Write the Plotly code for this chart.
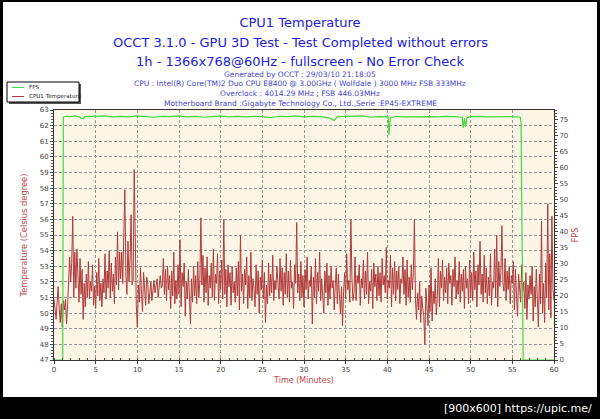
import plotly.graph_objects as go

# ---------------- data ----------------
SAMPLE_STEP_MIN = 0.125  # one temperature sample every 7.5 s

cpu1_temp = [
    50.9, 50.1, 49.6, 50.7, 51.7, 50.3, 49.4, 50.6,   # 0
    49.1, 50.8, 50.2, 50.9, 49.3, 50.4, 52.6, 53.6,   # 1
    52.0, 53.2, 56.2, 51.0, 53.9, 51.6, 54.1, 52.3,   # 2
    50.7, 53.5, 51.2, 52.8, 49.6, 51.9, 50.4, 52.5,   # 3
    51.0, 53.3, 50.9, 52.0, 51.4, 53.1, 50.5, 51.7,   # 4
    50.3, 52.6, 51.1, 53.5, 50.8, 51.9, 50.4, 52.2,   # 5
    51.3, 53.8, 50.9, 52.7, 51.6, 54.0, 51.0, 53.2,   # 6
    51.4, 52.5, 50.6, 53.6, 51.8, 55.2, 51.5, 53.9,   # 7
    52.2, 53.9, 51.9, 55.0, 57.9, 52.4, 51.2, 54.6,   # 8
    52.0, 53.4, 56.3, 51.8, 52.1, 59.2, 52.5, 50.5,   # 9
    49.1, 51.8, 50.7, 52.9, 51.2, 50.1, 52.6, 51.4,   # 10
    50.5, 52.3, 51.9, 50.6, 51.5, 52.0, 50.8, 51.7,   # 11
    52.1, 51.3, 51.7, 52.2, 51.0, 51.9, 52.4, 51.6,   # 12
    51.8, 53.5, 51.2, 52.8, 50.8, 53.0, 51.5, 52.4,   # 13
    50.3, 52.7, 51.1, 53.9, 50.6, 52.1, 50.9, 53.1,   # 14
    51.2, 54.7, 50.4, 52.6, 51.7, 53.2, 49.8, 52.0,   # 15
    50.9, 52.8, 51.4, 49.3, 52.2, 50.7, 53.0, 51.1,   # 16
    52.4, 50.6, 53.3, 51.0, 52.0, 56.1, 51.8, 53.7,   # 17
    50.7, 52.9, 51.3, 53.6, 50.5, 52.4, 51.6, 53.2,   # 18
    51.0, 54.1, 50.8, 52.5, 51.9, 53.8, 50.6, 52.7,   # 19
    51.5, 53.4, 50.9, 56.0, 51.2, 52.8, 50.4, 53.1,   # 20
    51.7, 52.6, 50.5, 53.0, 51.3, 52.0, 50.7, 52.9,   # 21
    51.1, 53.3, 50.2, 55.0, 51.4, 52.5, 50.6, 52.8,   # 22
    51.8, 53.6, 50.3, 52.4, 51.0, 53.9, 50.8, 52.2,   # 23
    51.6, 50.4, 53.1, 51.2, 52.7, 50.0, 52.3, 51.5,   # 24
    53.4, 50.9, 52.6, 49.4, 51.8, 50.6, 53.2, 51.1,   # 25
    52.5, 51.3, 53.7, 50.8, 52.1, 51.5, 53.0, 51.7,   # 26
    50.9, 53.5, 51.4, 52.9, 50.5, 52.6, 51.2, 53.8,   # 27
    51.0, 52.7, 50.7, 53.4, 51.6, 52.0, 50.3, 53.1,   # 28
    51.9, 55.8, 51.3, 52.5, 50.8, 53.3, 51.0, 52.4,   # 29
    50.4, 52.8, 51.5, 53.6, 50.9, 52.1, 51.7, 53.0,   # 30
    49.3, 52.3, 51.0, 53.5, 50.6, 52.6, 51.4, 53.9,   # 31
    50.8, 52.2, 51.1, 50.0, 52.7, 51.3, 53.2, 50.5,   # 32
    52.4, 50.9, 53.0, 51.6, 52.1, 50.2, 51.8, 52.9,   # 33
    50.6, 52.5, 51.2, 50.0, 51.7, 49.2, 51.4, 52.6,   # 34
    50.9, 53.8, 51.5, 52.1, 50.7, 56.0, 52.3, 50.8,   # 35
    51.3, 53.6, 50.8, 52.4, 51.9, 53.1, 50.5, 52.2,   # 36
    51.6, 53.4, 50.9, 52.7, 51.2, 53.9, 50.6, 52.0,   # 37
    51.4, 52.8, 50.3, 53.2, 51.7, 52.5, 50.8, 53.0,   # 38
    51.1, 52.6, 50.7, 53.5, 51.8, 52.4, 51.3, 54.2,   # 39
    50.9, 52.1, 51.6, 53.7, 50.4, 52.9, 51.2, 53.3,   # 40
    50.8, 52.7, 51.5, 53.0, 50.6, 52.2, 51.9, 53.6,   # 41
    51.2, 52.8, 50.5, 53.4, 51.0, 52.3, 50.7, 53.1,   # 42
    51.5, 52.6, 56.0, 50.9, 49.6, 51.3, 50.2, 52.0,   # 43
    49.4, 51.1, 50.3, 49.8, 48.0, 51.6, 50.5, 49.2,   # 44
    51.8, 50.1, 52.9, 49.5, 51.4, 50.6, 52.2, 49.9,   # 45
    51.0, 53.5, 50.4, 52.7, 51.6, 53.4, 50.8, 52.3,   # 46
    51.3, 52.9, 50.6, 53.2, 51.9, 52.4, 50.5, 52.8,   # 47
    51.7, 53.6, 50.9, 52.1, 51.2, 53.3, 50.7, 52.5,   # 48
    51.4, 52.8, 50.3, 53.0, 51.6, 52.2, 50.6, 53.4,   # 49
    51.0, 52.6, 50.8, 53.9, 51.5, 52.7, 50.4, 53.1,   # 50
    51.8, 54.6, 51.2, 52.5, 50.7, 53.7, 51.3, 52.9,   # 51
    50.6, 52.3, 51.1, 53.8, 50.5, 52.0, 51.6, 54.1,   # 52
    51.0, 55.0, 50.4, 53.3, 51.7, 52.6, 55.6, 51.9,   # 53
    51.4, 53.5, 50.8, 52.7, 51.5, 53.0, 50.6, 52.4,   # 54
    51.9, 53.3, 50.2, 52.8, 51.1, 49.8, 52.5, 51.6,   # 55
    50.7, 53.1, 51.4, 52.0, 50.3, 52.6, 49.6, 51.8,   # 56
    50.9, 52.4, 51.2, 53.0, 49.5, 51.7, 50.4, 52.8,   # 57
    51.3, 49.1, 52.5, 50.6, 55.9, 50.0, 51.9, 49.4,   # 58
    53.2, 51.0, 57.0, 50.2, 53.8, 49.7, 56.2, 51.5,   # 59
    50.8,                                             # 60
]

fps_time = [0, 1.05, 1.12, 1.5, 2, 2.5, 3, 3.5, 3.7, 4.5, 5, 6, 7, 8, 9, 10,
            11, 12, 13, 14, 15, 16, 17, 18, 19, 20, 21, 22, 23, 24, 25, 26,
            27, 28, 29, 30, 31, 32, 33, 33.6, 34, 35, 36, 37, 38, 39, 40.1,
            40.2, 40.35, 41, 42, 43, 44, 45, 46, 47, 48, 49.0, 49.1, 49.25,
            49.4, 49.55, 50, 51, 52, 53, 54, 55, 55.95, 56.05, 56.2, 56.3, 60]
fps_value = [0, 0, 75.9, 76.1, 76.0, 76.2, 75.9, 75.3, 76.0, 76.1, 76.0, 76.2,
             75.9, 76.1, 75.9, 76.2, 76.0, 75.8, 76.1, 76.0, 76.2, 75.9, 76.1,
             75.8, 76.0, 76.2, 75.9, 76.1, 75.9, 76.1, 76.0, 75.7, 76.1, 76.0,
             76.2, 75.9, 76.1, 76.0, 75.6, 74.8, 76.0, 76.1, 76.0, 76.2, 75.8,
             76.0, 75.9, 70.2, 75.6, 76.1, 75.9, 76.0, 76.1, 76.0, 75.9, 76.1,
             76.0, 75.8, 72.5, 75.5, 72.8, 75.7, 76.0, 76.1, 75.9, 76.0, 76.1,
             76.0, 75.8, 74.0, 30.0, 0, 0]

temp_ticks = list(range(47, 64))
fps_ticks = list(range(0, 80, 5))
time_ticks = list(range(0, 65, 5))

title_lines = ["OCCT 3.1.0 - GPU 3D Test - Test Completed without errors",
               "1h - 1366x768@60Hz - fullscreen - No Error Check"]
info_lines = ["Generated by OCCT : 29/03/10 21:18:05",
              "CPU : Intel(R) Core(TM)2 Duo CPU E8400 @ 3.00GHz ( Wolfdale ) 3000 MHz FSB 333MHz",
              "Overclock : 4014.29 MHz ; FSB 446.03MHz",
              "Motherboard Brand :Gigabyte Technology Co., Ltd.,Serie :EP45-EXTREME"]

temp_time = [i * SAMPLE_STEP_MIN for i in range(len(cpu1_temp))]

# ---------------- layout geometry (pixels) ----------------
W, H = 600, 419
L, R, T, B = 54, 46, 110, 59
PW, PH = W - L - R, H - T - B


def px(x):
    return (x - L) / PW


def py(y):
    return (H - B - y) / PH


FONT = "DejaVu Sans"
RED = "#B03A3A"
GREEN = "#3ddc3d"
AXIS_RED = "#C04848"

fig = go.Figure()
fig.add_trace(go.Scatter(x=temp_time, y=cpu1_temp, mode="lines", name="CPU1 Temperature",
                         line=dict(color=RED, width=1), showlegend=False))
fig.add_trace(go.Scatter(x=fps_time, y=fps_value, mode="lines", name="FPS", yaxis="y2",
                         line=dict(color=GREEN, width=1.2), showlegend=False))

shapes = []
# black frame and bottom bar
black = dict(type="rect", xref="paper", yref="paper", fillcolor="black", line=dict(width=0), layer="above")
shapes.append({**black, "x0": px(-5), "x1": px(3), "y0": py(425), "y1": py(-5)})
shapes.append({**black, "x0": px(597), "x1": px(605), "y0": py(425), "y1": py(-5)})
shapes.append({**black, "x0": px(-5), "x1": px(605), "y0": py(2), "y1": py(-5)})
shapes.append({**black, "x0": px(-5), "x1": px(605), "y0": py(425), "y1": py(397)})
# legend box (shadow + box)
shapes.append(dict(type="rect", xref="paper", yref="paper", x0=px(9), x1=px(81), y0=py(104), y1=py(84),
                   fillcolor="#555", line=dict(width=0)))
shapes.append(dict(type="rect", xref="paper", yref="paper", x0=px(7), x1=px(79), y0=py(102), y1=py(82),
                   fillcolor="white", line=dict(color="black", width=1)))
shapes.append(dict(type="line", xref="paper", yref="paper", x0=px(12), x1=px(24), y0=py(87.5), y1=py(87.5),
                   line=dict(color=GREEN, width=1)))
shapes.append(dict(type="line", xref="paper", yref="paper", x0=px(12), x1=px(24), y0=py(96.5), y1=py(96.5),
                   line=dict(color=RED, width=1)))

annotations = []
for txt, yy in zip(title_lines, [42, 61]):
    annotations.append(dict(text=txt, x=px(300), y=py(yy), xref="paper", yref="paper", showarrow=False,
                            xanchor="center", yanchor="middle", font=dict(family=FONT, size=13, color="#2020E0")))
for txt, yy in zip(info_lines, [74.5, 84, 93.5, 103]):
    annotations.append(dict(text=txt, x=px(300), y=py(yy), xref="paper", yref="paper", showarrow=False,
                            xanchor="center", yanchor="middle", font=dict(family=FONT, size=7.5, color="#4848D0")))
for txt, yy in zip(["FPS", "CPU1 Temperature"], [87.5, 96.5]):
    annotations.append(dict(text=txt, x=px(27), y=py(yy), xref="paper", yref="paper", showarrow=False,
                            xanchor="left", yanchor="middle", font=dict(family=FONT, size=5.6, color="#222")))
annotations.append(dict(text="[900x600] https://upic.me/", x=px(594), y=py(408), xref="paper", yref="paper",
                        showarrow=False, xanchor="right", yanchor="middle",
                        font=dict(family=FONT, size=11, color="white")))

tickfont = dict(family=FONT, size=7, color="#444")
grid = dict(showgrid=True, gridcolor="#9a9a9a", gridwidth=1, griddash="3px,2px")

fig.update_layout(
    width=W, height=H,
    margin=dict(l=L, r=R, t=T, b=B, pad=0),
    paper_bgcolor="white",
    plot_bgcolor="#FDF6E6",
    title=dict(text="CPU1 Temperature", x=300 / W, xanchor="center",
               y=1 - 22 / H, yanchor="middle", font=dict(family=FONT, size=13, color="#2020E0")),
    shapes=shapes,
    annotations=annotations,
    showlegend=False,
    xaxis=dict(range=[0, 60], tickvals=time_ticks, ticks="outside", ticklen=3, tickcolor="#444",
               tickfont=tickfont, showline=True, linecolor="#333", linewidth=1, mirror=True,
               zeroline=False, minor=dict(dtick=1, ticks="inside", ticklen=2, tickcolor="#555", showgrid=False),
               title=dict(text="Time (Minutes)", font=dict(family=FONT, size=8, color=AXIS_RED), standoff=3),
               **grid),
    yaxis=dict(range=[47, 63], tickvals=temp_ticks, ticks="outside", ticklen=3, tickcolor="#444",
               tickfont=tickfont, showline=True, linecolor="#333", linewidth=1, mirror=True,
               zeroline=False, minor=dict(dtick=0.2, ticks="outside", ticklen=2, tickcolor="#555", showgrid=False),
               title=dict(text="Temperature (Celsius degree)", font=dict(family=FONT, size=8.3, color=AXIS_RED),
                          standoff=10),
               **grid),
    yaxis2=dict(range=[0, 78.06], overlaying="y", side="right", tickvals=fps_ticks, ticks="outside",
                ticklen=3, tickcolor="#444", tickfont=tickfont, showgrid=False, zeroline=False,
                showline=False, minor=dict(dtick=1, ticks="outside", ticklen=2, tickcolor="#555"),
                title=dict(text="FPS", font=dict(family=FONT, size=8, color=AXIS_RED), standoff=5)),
)

fig.write_html("out.html")
